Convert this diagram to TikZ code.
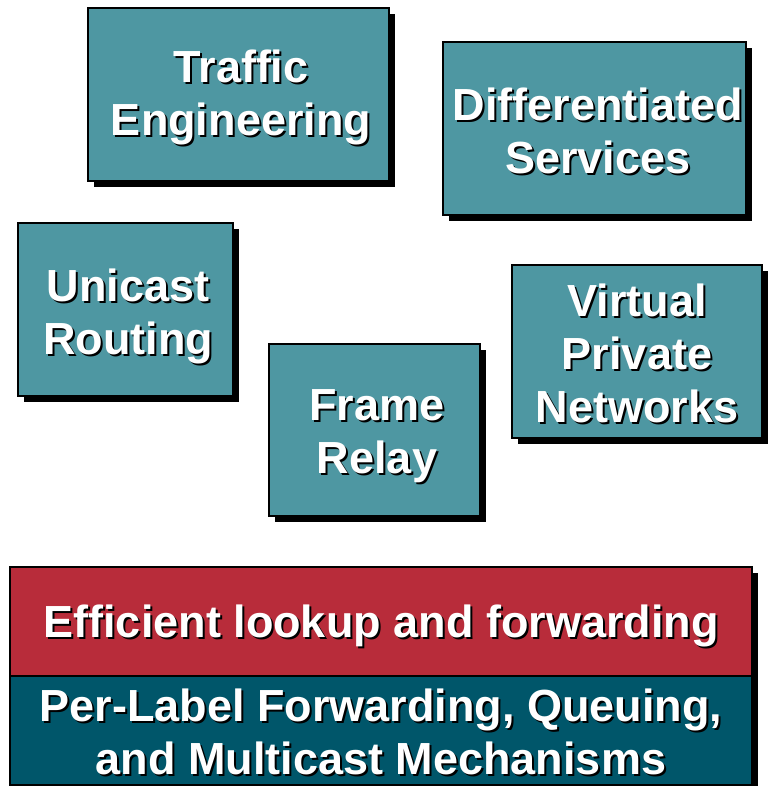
\documentclass[tikz,border=0pt]{standalone}
\usepackage{fontspec}
\setmainfont{Liberation Sans}
\usetikzlibrary{shadows,fit}
\definecolor{boxteal}{HTML}{4E97A2}
\definecolor{basered}{HTML}{B82C3A}
\definecolor{basedark}{HTML}{00566A}
\tikzset{
  panel/.style={draw=black, line width=2pt, inner sep=0pt,
    general shadow={fill=black, shadow xshift=6pt, shadow yshift=-6pt}},
  lbl/.style={text=white, font=\fontsize{45}{53}\selectfont\bfseries,
    align=center, inner sep=0pt},
}
% #1 name, #2-#5 corners, #6 fill, #7,#8 text centre, #9 text
\newcommand\panelbox[9]{%
  \node[panel, fill=#6, fit={(#2,#3) (#4,#5)}] (#1) {};
  \node[lbl, text=black] (#1-sh) at (#7+2,#8+2) {#9};
  \node[lbl] (#1-txt) at (#7,#8) {#9};
}
\begin{document}
\begin{tikzpicture}[x=1pt, y=-1pt]
  \useasboundingbox (0,0) rectangle (770,786);
  \panelbox{te}{88}{8}{389}{181}{boxteal}{241}{97}{Traffic\\Engineering}
  \panelbox{ds}{443}{42}{746}{215}{boxteal}{598}{131}{Differentiated\\Services}
  \panelbox{ur}{18}{223}{233}{396}{boxteal}{128}{316}{Unicast\\Routing}
  \panelbox{vpn}{512}{265}{762}{438}{boxteal}{637}{353}{Virtual\\Private\\Networks}
  \panelbox{fr}{269}{344}{480}{516}{boxteal}{377}{436}{Frame\\Relay}
  \panelbox{base}{10}{567}{752}{676}{basered}{381}{626}{Efficient lookup and forwarding}
  \panelbox{mech}{10}{676}{752}{785}{basedark}{381}{732}{Per-Label Forwarding, Queuing,\\and Multicast Mechanisms}
\end{tikzpicture}
\end{document}
